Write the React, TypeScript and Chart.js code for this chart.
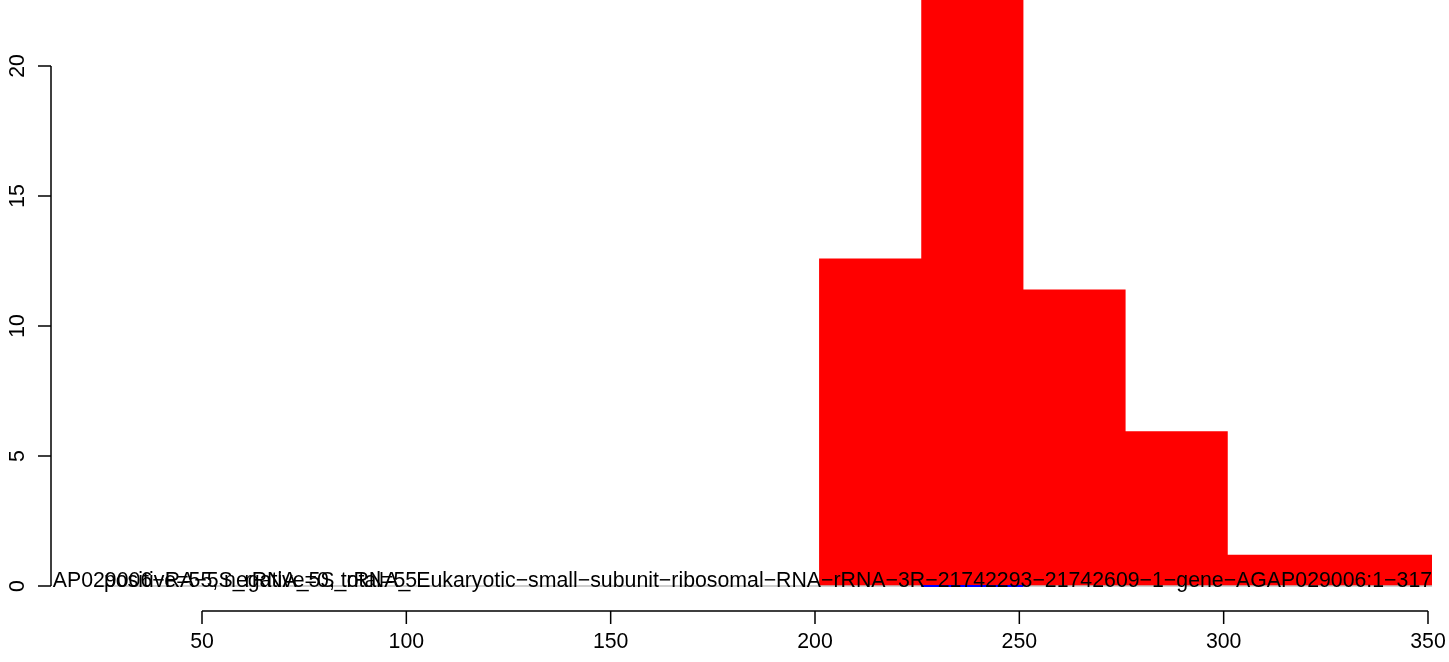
import React, { useEffect, useRef } from "react";
import { Chart, registerables } from "chart.js";

Chart.register(...registerables);

// histogram breaks and bar heights (positive set)
const breaks = [26, 51, 76, 101, 126, 151, 176, 201, 226, 251, 276, 301, 326, 351];
const positiveHeights = [0, 0, 0, 0, 0, 0, 0, 12.6, 24.6, 11.4, 5.95, 1.2, 1.2];
// negative set: one empty bin drawn in blue
const negativeBin = [226, 251];
const negativeHeights = [0, 0];
// baseline of all bins (gray)
const baselineRange = [26, 351];
const baselineHeights = [0, 0];

const xTicks = [50, 100, 150, 200, 250, 300, 350];
const yTicks = [0, 5, 10, 15, 20];

const labelName =
  "AP029006−RA−5S_rRNA_5S_rRNA_ Eukaryotic−small−subunit−ribosomal−RNA−rRNA−3R−21742293−21742609−1−gene−AGAP029006:1−317";
const labelCounts = "positive=55, negative=0, total=55";

const FONT = '21.3px "Liberation Sans", Arial, sans-serif';

export default function App() {
  const ref = useRef<HTMLCanvasElement | null>(null);

  useEffect(() => {
    document.body.style.margin = "0";
    const canvas = ref.current;
    if (!canvas) return;

    const histPoints = breaks.map((b, i) => ({
      x: b,
      y: i === 0 ? positiveHeights[0] : positiveHeights[i - 1],
    }));

    const rAxes = {
      id: "rAxes",
      afterDraw(chart: any) {
        const ctx = chart.ctx;
        const xs = chart.scales.x;
        const ys = chart.scales.y;
        const area = chart.chartArea;
        ctx.save();
        ctx.strokeStyle = "#000";
        ctx.fillStyle = "#000";
        ctx.lineWidth = 1.5;
        ctx.font = FONT;
        // x axis
        const yAx = area.bottom;
        const x0 = xs.getPixelForValue(xTicks[0]);
        const x1 = xs.getPixelForValue(xTicks[xTicks.length - 1]);
        ctx.beginPath();
        ctx.moveTo(x0, yAx);
        ctx.lineTo(x1, yAx);
        xTicks.forEach((t) => {
          const px = xs.getPixelForValue(t);
          ctx.moveTo(px, yAx);
          ctx.lineTo(px, yAx + 13);
        });
        ctx.stroke();
        ctx.textAlign = "center";
        ctx.textBaseline = "alphabetic";
        xTicks.forEach((t) => {
          ctx.fillText(String(t), xs.getPixelForValue(t), yAx + 37);
        });
        // y axis
        const xAx = area.left;
        const yb = ys.getPixelForValue(yTicks[0]);
        const yt = ys.getPixelForValue(yTicks[yTicks.length - 1]);
        ctx.beginPath();
        ctx.moveTo(xAx, yb);
        ctx.lineTo(xAx, yt);
        yTicks.forEach((t) => {
          const py = ys.getPixelForValue(t);
          ctx.moveTo(xAx, py);
          ctx.lineTo(xAx - 13, py);
        });
        ctx.stroke();
        yTicks.forEach((t) => {
          const py = ys.getPixelForValue(t);
          ctx.save();
          ctx.translate(xAx - 27.5, py);
          ctx.rotate(-Math.PI / 2);
          ctx.fillText(String(t), 0, 0);
          ctx.restore();
        });
        ctx.restore();
      },
    };

    const rTexts = {
      id: "rTexts",
      afterDatasetsDraw(chart: any) {
        const ctx = chart.ctx;
        const xs = chart.scales.x;
        const ys = chart.scales.y;
        const area = chart.chartArea;
        ctx.save();
        ctx.beginPath();
        ctx.rect(area.left + 1, area.top, area.right - area.left, area.bottom - area.top);
        ctx.clip();
        ctx.fillStyle = "#000";
        ctx.font = FONT;
        ctx.textBaseline = "alphabetic";
        const yb = ys.getPixelForValue(0) + 0.5;
        ctx.textAlign = "right";
        ctx.fillText(labelName, xs.getPixelForValue(breaks[breaks.length - 1]), yb);
        ctx.textAlign = "left";
        ctx.fillText(labelCounts, xs.getPixelForValue(breaks[0]), yb);
        ctx.restore();
      },
    };

    const chart = new Chart(canvas, {
      type: "line",
      data: {
        datasets: [
          {
            label: "negative",
            data: negativeBin.map((x, i) => ({ x, y: negativeHeights[i] })),
            borderColor: "#0000FF",
            borderWidth: 2,
            pointRadius: 0,
            fill: false,
            order: 1,
          },
          {
            label: "baseline",
            data: baselineRange.map((x, i) => ({ x, y: baselineHeights[i] })),
            borderColor: "#BEBEBE",
            borderWidth: 1.5,
            pointRadius: 0,
            fill: false,
            order: 2,
          },
          {
            label: "positive",
            data: histPoints,
            stepped: "after",
            borderWidth: 0,
            borderColor: "rgba(0,0,0,0)",
            backgroundColor: "#FF0000",
            pointRadius: 0,
            fill: "origin",
            order: 3,
          },
        ],
      },
      options: {
        animation: false,
        responsive: false,
        devicePixelRatio: 1,
        layout: { padding: { left: 51, top: 0, right: 0, bottom: 51 } },
        plugins: {
          legend: { display: false },
          tooltip: { enabled: false },
        },
        scales: {
          x: {
            type: "linear",
            display: false,
            min: 13.05,
            max: 355.14,
          },
          y: {
            type: "linear",
            display: false,
            min: -0.9615,
            max: 22.538,
          },
        },
      },
      plugins: [rTexts, rAxes],
    });

    return () => {
      chart.destroy();
    };
  }, []);

  return (
    <div style={{ width: 1449, height: 662, background: "#fff", overflow: "hidden" }}>
      <canvas ref={ref} width={1449} height={662} style={{ display: "block" }} />
    </div>
  );
}
